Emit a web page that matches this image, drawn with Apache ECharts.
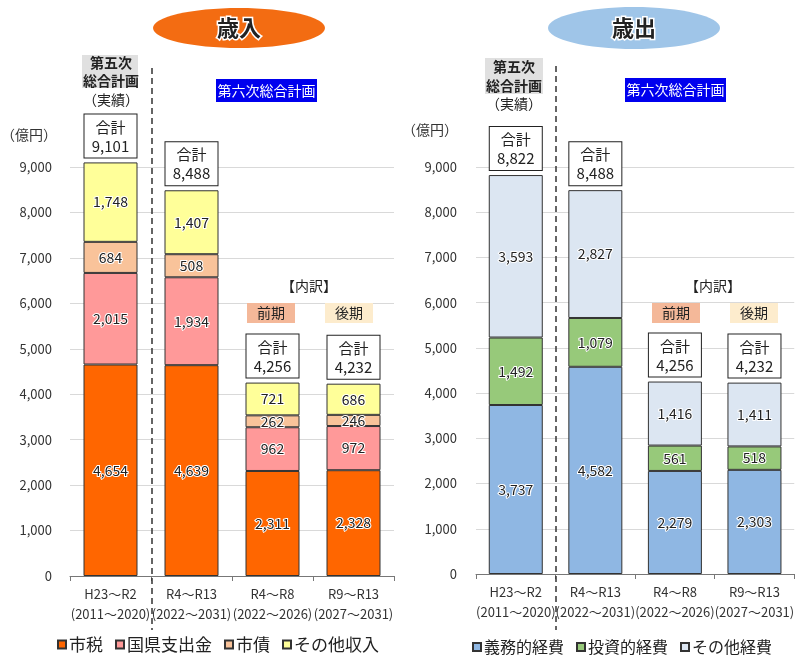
<!DOCTYPE html>
<html>
<head>
<meta charset="utf-8">
<script src="https://cdn.jsdelivr.net/npm/echarts@6/dist/echarts.min.js"></script>
<style>
  html, body { margin: 0; padding: 0; background: #fff; }
  #chart { width: 797px; height: 655px; }
</style>
</head>
<body>
<div id="chart"></div>
<script>
// 期間ラベル
const periods = ['H23～R2', 'R4～R13', 'R4～R8', 'R9～R13'];
const years = ['(2011～2020)', '(2022～2031)', '(2022～2026)', '(2027～2031)'];
const yTicks = [0, 1000, 2000, 3000, 4000, 5000, 6000, 7000, 8000, 9000];

// 歳入（億円）
const cityTax = [4654, 4639, 2311, 2328];
const govGrant = [2015, 1934, 962, 972];
const cityBond = [684, 508, 262, 246];
const otherRevenue = [1748, 1407, 721, 686];
const revenueTotal = [9101, 8488, 4256, 4232];

// 歳出（億円）
const mandatory = [3737, 4582, 2279, 2303];
const investment = [1492, 1079, 561, 518];
const otherExpense = [3593, 2827, 1416, 1411];
const expenseTotal = [8822, 8488, 4256, 4232];

const FONT = '"Noto Sans CJK JP", "Noto Sans", sans-serif';

function fmt(v) {
    return Number(v).toLocaleString('en-US');
}

// 積み上げ棒のシリーズを作る
function stackSeries(name, data, color, idx, stack) {
    return {
        name: name,
        type: 'bar',
        stack: stack,
        xAxisIndex: idx,
        yAxisIndex: idx,
        barWidth: 54,
        clip: false,
        data: data,
        itemStyle: { color: color, borderColor: '#333', borderWidth: 1 },
        label: {
            show: true,
            position: 'inside',
            formatter: p => fmt(p.value),
            fontFamily: FONT,
            fontSize: 14,
            color: '#222',
            textBorderColor: '#fff',
            textBorderWidth: 2
        }
    };
}

// 合計ボックス
function totalSeries(data, idx) {
    return {
        name: '合計',
        type: 'bar',
        xAxisIndex: idx,
        yAxisIndex: idx,
        barWidth: 54,
        barGap: '-100%',
        clip: false,
        silent: true,
        data: data,
        itemStyle: { color: 'rgba(0,0,0,0)' },
        label: {
            show: true,
            position: 'top',
            distance: 5,
            formatter: p => '合計\n' + fmt(p.value),
            fontFamily: FONT,
            fontSize: 15,
            lineHeight: 19,
            color: '#222',
            align: 'center',
            width: 52,
            padding: [3, 0, 2, 0],
            backgroundColor: '#fff',
            borderColor: '#222',
            borderWidth: 1
        }
    };
}

function xAxisFor(idx) {
    return {
        type: 'category',
        gridIndex: idx,
        data: periods,
        axisLine: { lineStyle: { color: '#777' } },
        axisTick: { show: true, length: 5, lineStyle: { color: '#777' } },
        axisLabel: {
            interval: 0,
            margin: 8,
            fontFamily: FONT,
            fontSize: 13,
            lineHeight: 20,
            color: '#333',
            formatter: (v, i) => v + '\n' + years[i]
        }
    };
}

function yAxisFor(idx) {
    return {
        type: 'value',
        gridIndex: idx,
        min: yTicks[0],
        max: yTicks[yTicks.length - 1],
        interval: 1000,
        name: '（億円）',
        nameLocation: 'end',
        nameGap: idx === 0 ? 25 : 30,
        nameTextStyle: { fontFamily: FONT, fontSize: 14, color: '#333', align: 'right', padding: [0, idx === 0 ? 13 : 18, 0, 0] },
        axisLine: { show: false },
        axisTick: { show: false },
        axisLabel: {
            margin: idx === 0 ? 18 : 19,
            fontFamily: FONT,
            fontSize: 13,
            color: '#333',
            formatter: v => fmt(v)
        },
        splitLine: { lineStyle: { color: '#d9d9d9' } }
    };
}

function text(x, y, str, opt) {
    return {
        type: 'text',
        x: x,
        y: y,
        z: 100,
        style: Object.assign({
            text: str,
            fill: '#222',
            fontFamily: FONT,
            fontSize: 14,
            align: 'center',
            verticalAlign: 'middle',
            textAlign: 'center',
            textVerticalAlign: 'middle'
        }, opt || {})
    };
}

function rect(x, y, w, h, color) {
    return { type: 'rect', shape: { x: x, y: y, width: w, height: h }, style: { fill: color }, z: 90 };
}

const graphics = [
    // 見出しの楕円
    { type: 'ellipse', shape: { cx: 239, cy: 28, rx: 86, ry: 20 }, style: { fill: '#f36c12' }, z: 90 },
    text(239, 28, '歳入', { fontSize: 22, fontWeight: 'bold', stroke: '#fff', lineWidth: 3 }),
    { type: 'ellipse', shape: { cx: 634, cy: 28, rx: 86, ry: 21 }, style: { fill: '#9fc5e8' }, z: 90 },
    text(634, 28, '歳出', { fontSize: 22, fontWeight: 'bold', stroke: '#fff', lineWidth: 3 }),

    // 第五次
    rect(82, 55, 56, 33, '#e0e0e0'),
    text(111, 63, '第五次', { fontWeight: 'bold' }),
    text(111, 81, '総合計画', { fontWeight: 'bold' }),
    text(111, 100, '（実績）'),
    rect(485, 58, 58, 36, '#e0e0e0'),
    text(514, 67, '第五次', { fontWeight: 'bold' }),
    text(514, 86, '総合計画', { fontWeight: 'bold' }),
    text(514, 104, '（実績）'),

    // 第六次
    rect(216, 79, 101, 23, '#0000ee'),
    text(266.5, 90.5, '第六次総合計画', { fill: '#fff' }),
    rect(625, 78, 101, 24, '#0000ee'),
    text(675.5, 90, '第六次総合計画', { fill: '#fff' }),

    // 内訳
    text(309, 286, '【内訳】'),
    rect(247, 303, 48, 20, '#f4b899'),
    text(271, 313, '前期'),
    rect(325, 303, 48, 20, '#fdeccd'),
    text(349, 313, '後期'),
    text(713, 286, '【内訳】'),
    rect(652, 303, 48, 20, '#f4b899'),
    text(676, 313, '前期'),
    rect(730, 303, 48, 20, '#fdeccd'),
    text(754, 313, '後期'),

    // 区切り線
    { type: 'line', shape: { x1: 152, y1: 68, x2: 152, y2: 630 }, style: { stroke: '#333', lineWidth: 1.5, lineDash: [6, 4] }, z: 95 },
    { type: 'line', shape: { x1: 556, y1: 66, x2: 556, y2: 630 }, style: { stroke: '#333', lineWidth: 1.5, lineDash: [6, 4] }, z: 95 }
];

const chart = echarts.init(document.getElementById('chart'));

const option = {
    backgroundColor: '#fff',
    animation: false,
    textStyle: { fontFamily: FONT },
    grid: [
        { left: 70, width: 324, top: 167, height: 409 },
        { left: 476, width: 320, top: 167, height: 407 }
    ],
    xAxis: [xAxisFor(0), xAxisFor(1)],
    yAxis: [yAxisFor(0), yAxisFor(1)],
    legend: [
        {
            data: ['市税', '国県支出金', '市債', 'その他収入'],
            left: 52, top: 631,
            icon: 'rect', itemWidth: 8, itemHeight: 8, itemGap: 12,
            textStyle: { fontFamily: FONT, fontSize: 17, color: '#222', padding: [0, 0, 0, -2] }
        },
        {
            data: ['義務的経費', '投資的経費', 'その他経費'],
            left: 467, top: 634,
            icon: 'rect', itemWidth: 8, itemHeight: 8, itemGap: 12,
            textStyle: { fontFamily: FONT, fontSize: 16, color: '#222', padding: [0, 0, 0, -2] }
        }
    ],
    series: [
        stackSeries('市税', cityTax, '#ff6600', 0, 'rev'),
        stackSeries('国県支出金', govGrant, '#ff9999', 0, 'rev'),
        stackSeries('市債', cityBond, '#f9c39a', 0, 'rev'),
        stackSeries('その他収入', otherRevenue, '#ffff99', 0, 'rev'),
        totalSeries(revenueTotal, 0),
        stackSeries('義務的経費', mandatory, '#8fb7e3', 1, 'exp'),
        stackSeries('投資的経費', investment, '#97c97a', 1, 'exp'),
        stackSeries('その他経費', otherExpense, '#dce6f2', 1, 'exp'),
        totalSeries(expenseTotal, 1)
    ],
    graphic: graphics
};

chart.setOption(option);
</script>
</body>
</html>
